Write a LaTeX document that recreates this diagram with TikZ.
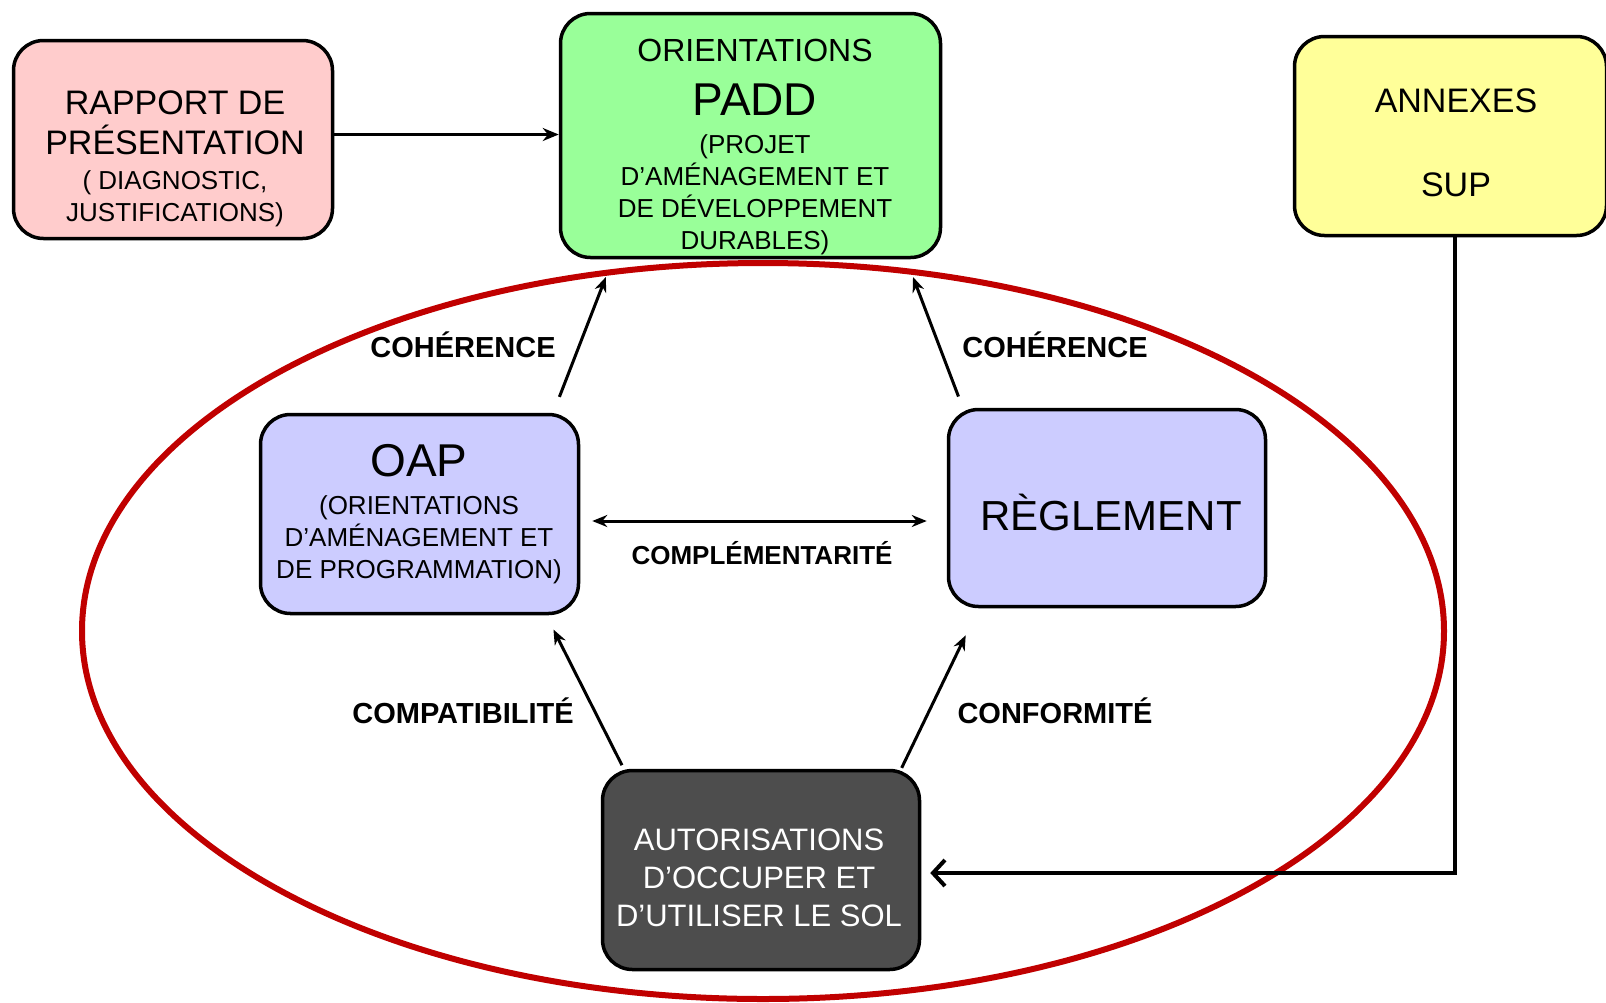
\documentclass[tikz,border=0pt]{standalone}
\usepackage{fontspec}
\setmainfont{Liberation Sans}
\usetikzlibrary{arrows.meta}
\definecolor{rapportfill}{HTML}{FFCCCC}
\definecolor{paddfill}{HTML}{99FF99}
\definecolor{annexfill}{HTML}{FFFF99}
\definecolor{oapfill}{HTML}{CCCCFF}
\definecolor{autorfill}{HTML}{4D4D4D}
\definecolor{ovalred}{HTML}{C00000}
\begin{document}
\begin{tikzpicture}[x=1pt,y=-1pt,
  box/.style={draw,line width=3.5pt,rounded corners=30pt,inner sep=0pt},
  lbl/.style={font=\fontsize{29}{34}\selectfont\bfseries},
  rel/.style={line width=3pt,-{Stealth[length=15pt,width=12pt]}}]
\useasboundingbox (0,0) rectangle (1606,1002);
% la zone du PLU
\draw[ovalred,line width=6pt] (763,631) ellipse [x radius=681pt,y radius=368pt];
% les pieces
\node[box,fill=rapportfill,minimum width=319pt,minimum height=198pt] (rapport) at (173,139.5) {};
\node[box,fill=paddfill,minimum width=380pt,minimum height=244pt] (padd) at (750.5,135.5) {};
\node[box,fill=annexfill,minimum width=312pt,minimum height=199pt] (annexes) at (1450.5,136) {};
\node[box,fill=oapfill,minimum width=318pt,minimum height=199pt] (oap) at (419.5,514) {};
\node[box,fill=oapfill,minimum width=317pt,minimum height=197pt] (regl) at (1107,508) {};
\node[box,fill=autorfill,minimum width=317pt,minimum height=199pt] (autor) at (761,870) {};
% textes
\node[align=center,font=\fontsize{34}{40}\selectfont] (rapport-t) at (175,123) {RAPPORT DE\\PRÉSENTATION};
\node[align=center,font=\fontsize{26}{32}\selectfont] (rapport-s) at (175,199) {( DIAGNOSTIC,\\JUSTIFICATIONS)};
\node[font=\fontsize{32}{38}\selectfont] (padd-o) at (755,50) {ORIENTATIONS};
\node[font=\fontsize{46}{52}\selectfont] (padd-t) at (755,100) {PADD};
\node[align=center,font=\fontsize{26}{32}\selectfont] (padd-s) at (755,195) {(PROJET\\D’AMÉNAGEMENT ET\\DE DÉVELOPPEMENT\\DURABLES)};
\node[align=center,font=\fontsize{34}{40}\selectfont] (annexes-t) at (1456,143) {ANNEXES\\[44pt]SUP};
\node[font=\fontsize{46}{52}\selectfont] (oap-t) at (419,461) {OAP};
\node[align=center,font=\fontsize{26}{32}\selectfont] (oap-s) at (419,540) {(ORIENTATIONS\\D’AMÉNAGEMENT ET\\DE PROGRAMMATION)};
\node[font=\fontsize{42}{48}\selectfont] (regl-t) at (1111,512) {RÈGLEMENT};
\node[align=center,text=white,font=\fontsize{31}{38}\selectfont] (autor-t) at (759,878) {AUTORISATIONS\\D’OCCUPER ET\\D’UTILISER LE SOL};
% liens
\draw[line width=3pt,-{Stealth[length=16pt,width=13pt]}] ([yshift=5pt]rapport.east) -- ([yshift=5pt]rapport.east -| padd.west);
\draw[rel,shorten <=17pt,shorten >=19pt] ([xshift=-27pt]oap.north east) -- ([xshift=54pt]padd.south west);
\draw[rel,shorten <=12pt,shorten >=19pt] ([xshift=16pt]regl.north west) -- ([xshift=-36pt]padd.south east);
\draw[rel,{Stealth[length=15pt,width=12pt]}-{Stealth[length=15pt,width=12pt]},shorten <=12pt,shorten >=20pt] ([yshift=-7pt]oap.east) -- ([yshift=-13pt]regl.west);
\draw[rel,shorten <=4pt,shorten >=16pt] ([xshift=23pt]autor.north west) -- ([xshift=-34pt]oap.south east);
\draw[rel,shorten <=1pt,shorten >=30pt] ([xshift=-20pt]autor.north east) -- ([xshift=32pt]regl.south west);
\draw[line width=4pt,-{Straight Barb[length=12pt,width=26pt,line width=4pt]},shorten >=9pt] ([xshift=4pt]annexes.south) |- ([yshift=-3pt]autor.east);
\node[lbl] (coh-g) at (463,345) {COHÉRENCE};
\node[lbl] (coh-d) at (1055,345) {COHÉRENCE};
\node[lbl,font=\fontsize{26}{30}\selectfont\bfseries] (compl) at (762,553) {COMPLÉMENTARITÉ};
\node[lbl] (compat) at (463,711) {COMPATIBILITÉ};
\node[lbl] (conf) at (1055,711) {CONFORMITÉ};
\end{tikzpicture}
\end{document}
